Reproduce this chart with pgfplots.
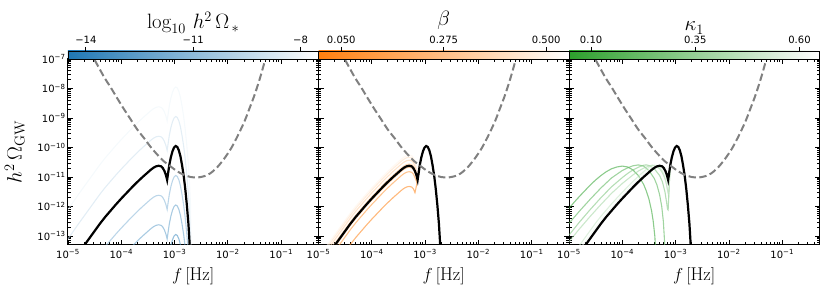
\documentclass[border=0pt]{standalone}
\usepackage{fontspec}
\usepackage{pgfplots}
\usepackage{pgfplotstable}
\pgfplotsset{compat=1.18}
\newfontfamily\dejavu{DejaVu Sans}
\definecolor{tabblue}{RGB}{31,119,180}
\definecolor{taborange}{RGB}{255,127,14}
\definecolor{tabgreen}{RGB}{44,160,44}
\definecolor{sgray}{RGB}{128,128,128}
\newcommand{\tl}[1]{10\textsuperscript{−#1}}

% log10 f , log10 h^2 Omega for the reference (black) curve and the h^2 Omega_* family
\pgfplotstableread{
x b8 b9 b10 b11 b12 b13 b14
-5.00 -12.10 -13.10 -14.10 -15.10 -16.10 -17.10 -18.10
-4.90 -11.84 -12.84 -13.84 -14.84 -15.84 -16.84 -17.84
-4.80 -11.58 -12.58 -13.58 -14.58 -15.58 -16.58 -17.58
-4.70 -11.33 -12.33 -13.33 -14.33 -15.33 -16.33 -17.33
-4.60 -11.08 -12.08 -13.08 -14.08 -15.08 -16.08 -17.08
-4.50 -10.83 -11.83 -12.83 -13.83 -14.83 -15.83 -16.83
-4.40 -10.58 -11.58 -12.58 -13.58 -14.58 -15.58 -16.58
-4.30 -10.35 -11.35 -12.35 -13.35 -14.35 -15.35 -16.35
-4.20 -10.14 -11.14 -12.14 -13.14 -14.14 -15.14 -16.14
-4.10 -9.93 -10.93 -11.93 -12.93 -13.93 -14.93 -15.93
-4.00 -9.73 -10.73 -11.73 -12.73 -13.73 -14.73 -15.73
-3.90 -9.54 -10.54 -11.54 -12.54 -13.54 -14.54 -15.54
-3.80 -9.35 -10.35 -11.35 -12.35 -13.35 -14.35 -15.35
-3.70 -9.17 -10.17 -11.17 -12.17 -13.17 -14.17 -15.17
-3.60 -9.00 -10.00 -11.00 -12.00 -13.00 -14.00 -15.00
-3.50 -8.84 -9.84 -10.84 -11.84 -12.84 -13.84 -14.84
-3.45 -8.76 -9.76 -10.76 -11.76 -12.76 -13.76 -14.76
-3.40 -8.69 -9.69 -10.69 -11.69 -12.69 -13.69 -14.69
-3.35 -8.64 -9.64 -10.64 -11.64 -12.64 -13.64 -14.64
-3.30 -8.62 -9.62 -10.62 -11.62 -12.62 -13.62 -14.62
-3.25 -8.64 -9.64 -10.64 -11.64 -12.64 -13.64 -14.64
-3.22 -8.70 -9.70 -10.70 -11.70 -12.70 -13.70 -14.70
-3.19 -8.80 -9.80 -10.80 -11.80 -12.80 -13.80 -14.80
-3.16 -8.95 -9.95 -10.95 -11.95 -12.95 -13.95 -14.95
-3.14 -9.10 -10.10 -11.10 -12.10 -13.10 -14.10 -15.10
-3.12 -8.85 -9.85 -10.85 -11.85 -12.85 -13.85 -14.85
-3.10 -8.60 -9.60 -10.60 -11.60 -12.60 -13.60 -14.60
-3.07 -8.33 -9.33 -10.33 -11.33 -12.33 -13.33 -14.33
-3.04 -8.13 -9.13 -10.13 -11.13 -12.13 -13.13 -14.13
-3.01 -8.00 -9.00 -10.00 -11.00 -12.00 -13.00 -14.00
-2.98 -7.95 -8.95 -9.95 -10.95 -11.95 -12.95 -13.95
-2.95 -7.98 -8.98 -9.98 -10.98 -11.98 -12.98 -13.98
-2.92 -8.10 -9.10 -10.10 -11.10 -12.10 -13.10 -14.10
-2.89 -8.30 -9.30 -10.30 -11.30 -12.30 -13.30 -14.30
-2.86 -8.60 -9.60 -10.60 -11.60 -12.60 -13.60 -14.60
-2.83 -8.95 -9.95 -10.95 -11.95 -12.95 -13.95 -14.95
-2.80 -9.40 -10.40 -11.40 -12.40 -13.40 -14.40 -15.40
-2.77 -9.95 -10.95 -11.95 -12.95 -13.95 -14.95 -15.95
-2.74 -10.60 -11.60 -12.60 -13.60 -14.60 -15.60 -16.60
-2.72 -11.20 -12.20 -13.20 -14.20 -15.20 -16.20 -17.20
-2.70 -12.00 -13.00 -14.00 -15.00 -16.00 -17.00 -18.00
-2.69 -14.00 -15.00 -16.00 -17.00 -18.00 -19.00 -20.00
}\tabOmega

% beta family (bump part, before joining the reference peak)
\pgfplotstableread{
x o05 o125 o20 o275 o35 o425 o50
-5.00 -14.80 -14.30 -14.15 -14.04 -13.91 -13.81 -13.74
-4.90 -14.54 -14.04 -13.89 -13.78 -13.65 -13.55 -13.48
-4.80 -14.28 -13.78 -13.63 -13.52 -13.39 -13.29 -13.22
-4.70 -14.03 -13.53 -13.38 -13.27 -13.14 -13.04 -12.97
-4.60 -13.78 -13.28 -13.13 -13.02 -12.89 -12.79 -12.72
-4.50 -13.53 -13.03 -12.88 -12.77 -12.64 -12.54 -12.47
-4.40 -13.28 -12.78 -12.63 -12.52 -12.39 -12.29 -12.22
-4.30 -13.05 -12.55 -12.40 -12.29 -12.16 -12.06 -11.99
-4.20 -12.84 -12.34 -12.19 -12.08 -11.95 -11.85 -11.78
-4.10 -12.63 -12.13 -11.98 -11.87 -11.74 -11.64 -11.57
-4.00 -12.43 -11.93 -11.78 -11.67 -11.54 -11.44 -11.37
-3.90 -12.24 -11.74 -11.59 -11.48 -11.35 -11.25 -11.18
-3.80 -12.05 -11.55 -11.40 -11.29 -11.16 -11.06 -10.99
-3.70 -11.87 -11.37 -11.22 -11.11 -10.98 -10.88 -10.81
-3.60 -11.70 -11.20 -11.05 -10.94 -10.81 -10.71 -10.64
-3.50 -11.54 -11.04 -10.89 -10.78 -10.65 -10.55 -10.48
-3.45 -11.46 -10.96 -10.81 -10.70 -10.57 -10.47 -10.40
-3.40 -11.39 -10.89 -10.74 -10.63 -10.50 -10.40 -10.33
-3.35 -11.34 -10.84 -10.69 -10.58 -10.45 -10.35 -10.28
-3.30 -11.32 -10.82 -10.67 -10.56 -10.43 -10.33 -10.26
-3.25 -11.34 -10.84 -10.69 -10.58 -10.45 -10.35 -10.28
-3.22 -11.40 -10.90 -10.75 -10.64 -10.51 -10.41 -10.34
-3.19 -11.53 -11.02 -10.85 -10.74 -10.65 -10.55 -10.48
-3.16 -11.28 -11.15 -11.00 -10.92 -10.82 -10.74 -10.68
-3.14 -11.05 -11.02 -11.12 -11.05 -10.98 -10.92 -10.88
-3.12 -10.85 -10.85 -10.85 -10.85 -10.85 -10.82 -10.80
-3.10 -10.60 -10.60 -10.60 -10.60 -10.60 -10.60 -10.58
}\tabBeta

% kappa_1 family
\pgfplotstableread{
x y
-5.00 -12.06
-4.90 -11.85
-4.80 -11.65
-4.70 -11.46
-4.60 -11.27
-4.50 -11.10
-4.40 -10.95
-4.30 -10.82
-4.20 -10.72
-4.10 -10.66
-4.00 -10.63
-3.90 -10.66
-3.80 -10.76
-3.70 -10.95
-3.60 -11.25
-3.55 -11.47
-3.50 -11.75
-3.45 -12.15
-3.42 -12.50
-3.39 -13.00
-3.37 -13.60
-3.36 -14.50
}\tabKa
\pgfplotstableread{
x y
-5.00 -12.57
-4.80 -12.15
-4.60 -11.75
-4.40 -11.37
-4.20 -11.03
-4.00 -10.78
-3.90 -10.69
-3.80 -10.62
-3.70 -10.59
-3.60 -10.63
-3.50 -10.78
-3.40 -11.05
-3.35 -11.27
-3.30 -11.60
-3.26 -12.00
-3.23 -12.50
-3.21 -13.10
-3.20 -13.60
-3.19 -14.50
}\tabKb
\pgfplotstableread{
x y
-5.00 -12.97
-4.80 -12.52
-4.60 -12.10
-4.40 -11.70
-4.20 -11.33
-4.00 -11.02
-3.90 -10.88
-3.80 -10.76
-3.70 -10.67
-3.60 -10.60
-3.55 -10.59
-3.50 -10.61
-3.40 -10.72
-3.30 -10.95
-3.25 -11.15
-3.20 -11.50
-3.17 -11.85
-3.15 -12.10
-3.14 -12.12
-3.12 -11.30
-3.10 -10.60
}\tabKc
\pgfplotstableread{
x y
-5.00 -13.19
-4.80 -12.75
-4.60 -12.33
-4.40 -11.93
-4.20 -11.55
-4.00 -11.22
-3.80 -10.93
-3.70 -10.80
-3.60 -10.70
-3.50 -10.63
-3.44 -10.60
-3.38 -10.62
-3.30 -10.72
-3.25 -10.85
-3.20 -11.05
-3.17 -11.25
-3.15 -11.45
-3.13 -11.60
-3.11 -10.85
-3.10 -10.60
}\tabKd
\pgfplotstableread{
x y
-5.00 -13.82
-4.90 -13.56
-4.80 -13.31
-4.70 -13.06
-4.60 -12.81
-4.50 -12.56
-4.40 -12.33
-4.30 -12.12
-4.20 -11.91
-4.10 -11.71
-4.00 -11.52
-3.90 -11.33
-3.80 -11.15
-3.70 -10.98
-3.60 -10.82
-3.50 -10.67
-3.45 -10.62
-3.40 -10.60
-3.35 -10.62
-3.30 -10.68
-3.25 -10.80
-3.22 -10.92
-3.19 -11.10
-3.16 -11.35
-3.14 -11.55
-3.12 -11.30
-3.10 -10.60
}\tabKe
\pgfplotstableread{
x y
-5.00 -13.96
-4.90 -13.70
-4.80 -13.45
-4.70 -13.20
-4.60 -12.95
-4.50 -12.70
-4.40 -12.46
-4.30 -12.24
-4.20 -12.03
-4.10 -11.82
-4.00 -11.63
-3.90 -11.44
-3.80 -11.25
-3.70 -11.08
-3.60 -10.91
-3.50 -10.75
-3.45 -10.68
-3.40 -10.63
-3.35 -10.61
-3.30 -10.63
-3.25 -10.70
-3.22 -10.78
-3.19 -10.92
-3.16 -11.15
-3.14 -11.35
-3.12 -11.10
-3.10 -10.60
}\tabKf

% sensitivity curve
\pgfplotstableread{
x y
-4.60 -6.72
-4.51 -7.00
-4.41 -7.33
-4.31 -7.65
-4.19 -7.99
-4.07 -8.35
-3.95 -8.70
-3.82 -9.06
-3.70 -9.39
-3.57 -9.69
-3.45 -9.98
-3.32 -10.25
-3.20 -10.47
-3.07 -10.65
-2.95 -10.81
-2.82 -10.93
-2.70 -11.00
-2.57 -11.02
-2.48 -10.99
-2.38 -10.93
-2.29 -10.82
-2.19 -10.65
-2.07 -10.38
-1.94 -10.03
-1.82 -9.62
-1.69 -9.12
-1.60 -8.70
-1.50 -8.22
-1.40 -7.66
-1.31 -7.09
-1.22 -6.50
}\tabSens

\pgfplotsset{
  panel/.style={
    scale only axis, width=250.5pt, height=186pt,
    anchor=south west,
    xmin=-5, xmax=-0.3, ymin=-13.305, ymax=-7,
    xtick={-5,-4,-3,-2,-1},
    xticklabels={\tl{5},\tl{4},\tl{3},\tl{2},\tl{1}},
    ytick={-13,-12,-11,-10,-9,-8,-7},
    minor xtick={-4.699,-4.523,-4.398,-4.301,-4.222,-4.155,-4.097,-4.046,
      -3.699,-3.523,-3.398,-3.301,-3.222,-3.155,-3.097,-3.046,
      -2.699,-2.523,-2.398,-2.301,-2.222,-2.155,-2.097,-2.046,
      -1.699,-1.523,-1.398,-1.301,-1.222,-1.155,-1.097,-1.046,
      -0.699,-0.523,-0.398},
    minor ytick={-13.222,-13.155,-13.097,-13.046,
      -12.699,-12.523,-12.398,-12.301,-12.222,-12.155,-12.097,-12.046,
      -11.699,-11.523,-11.398,-11.301,-11.222,-11.155,-11.097,-11.046,
      -10.699,-10.523,-10.398,-10.301,-10.222,-10.155,-10.097,-10.046,
      -9.699,-9.523,-9.398,-9.301,-9.222,-9.155,-9.097,-9.046,
      -8.699,-8.523,-8.398,-8.301,-8.222,-8.155,-8.097,-8.046,
      -7.699,-7.523,-7.398,-7.301,-7.222,-7.155,-7.097,-7.046},
    tick align=inside, xtick pos=both, ytick pos=both,
    major tick length=5pt, minor tick length=2.7pt,
    every tick/.append style={black, line width=0.8pt},
    axis line style={line width=1pt},
    xticklabel style={font=\dejavu\fontsize{10}{12}\selectfont, yshift=-1pt},
    yticklabel style={font=\dejavu\fontsize{10}{12}\selectfont, xshift=1pt},
    xlabel={$f\,[\mathrm{Hz}]$},
    xlabel style={font=\fontsize{18.5}{22}\selectfont, at={(axis description cs:0.5,-0.167)}, anchor=center},
    clip=true,
  },
  cbar/.style={
    scale only axis, width=250.5pt, height=8pt, anchor=south west,
    ymin=0, ymax=1, ytick=\empty,
    xtick pos=right, xticklabel pos=right, tick align=outside,
    major tick length=4pt,
    every tick/.append style={black, line width=0.8pt},
    xticklabel style={font=\dejavu\fontsize{10}{12}\selectfont},
    axis line style={line width=0.8pt},
    axis on top, clip=false,
  },
  fam/.style={line width=1.1pt, opacity=0.6},
  ref/.style={black, line width=2.2pt},
  sens/.style={sgray, line width=2pt, dash pattern=on 7.4pt off 3.4pt, smooth},
}

\begin{document}
\begin{tikzpicture}
\path[use as bounding box] (0,0) rectangle (830pt,296pt);

% ---------- panel 1 ----------
\begin{axis}[panel, at={(68pt,51pt)},
  yticklabels={\tl{13},\tl{12},\tl{11},\tl{10},\tl{9},\tl{8},\tl{7}},
  ylabel={$h^2\,\Omega_{\mathrm{GW}}$},
  ylabel style={font=\fontsize{20.74}{24}\selectfont, at={(axis description cs:-0.212,0.5)}, anchor=center}]
\addplot[fam, tabblue!93!white] table[x=x,y=b14] {\tabOmega};
\addplot[fam, tabblue!79!white] table[x=x,y=b13] {\tabOmega};
\addplot[fam, tabblue!64!white] table[x=x,y=b12] {\tabOmega};
\addplot[fam, tabblue!50!white] table[x=x,y=b11] {\tabOmega};
\addplot[fam, tabblue!36!white] table[x=x,y=b10] {\tabOmega};
\addplot[fam, tabblue!21!white] table[x=x,y=b9] {\tabOmega};
\addplot[fam, tabblue!7!white] table[x=x,y=b8] {\tabOmega};
\addplot[ref] table[x=x,y=b10] {\tabOmega};
\addplot[sens] table[x=x,y=y] {\tabSens};
\end{axis}
\begin{axis}[cbar, at={(68pt,237pt)}, xmin=-14.5, xmax=-7.5,
  xtick={-14,-11,-8}, xticklabels={−14,−11,−8}]
\fill[left color=tabblue, right color=white] (axis cs:-14.5,0) rectangle (axis cs:-7.5,1);
\node[anchor=base, inner sep=0pt, font=\fontsize{20.74}{24}\selectfont] at (rel axis cs:0.5,1) [yshift=22pt] {$\log_{10}\, h^2\,\Omega_{\,*}$};
\end{axis}

% ---------- panel 2 ----------
\begin{axis}[panel, at={(318.5pt,51pt)}, yticklabels={}]
\addplot[fam, taborange!91!white] table[x=x,y=o05] {\tabBeta};
\addplot[fam, taborange!77!white] table[x=x,y=o125] {\tabBeta};
\addplot[fam, taborange!64!white] table[x=x,y=o20] {\tabBeta};
\addplot[fam, taborange!50!white] table[x=x,y=o275] {\tabBeta};
\addplot[fam, taborange!36!white] table[x=x,y=o35] {\tabBeta};
\addplot[fam, taborange!23!white] table[x=x,y=o425] {\tabBeta};
\addplot[fam, taborange!9!white] table[x=x,y=o50] {\tabBeta};
\addplot[ref] table[x=x,y=b10] {\tabOmega};
\addplot[sens] table[x=x,y=y] {\tabSens};
\end{axis}
\begin{axis}[cbar, at={(318.5pt,237pt)}, xmin=0, xmax=0.55,
  xtick={0.05,0.275,0.5}, xticklabels={0.050,0.275,0.500}]
\fill[left color=taborange, right color=white] (axis cs:0,0) rectangle (axis cs:0.55,1);
\node[anchor=base, inner sep=0pt, font=\fontsize{20.74}{24}\selectfont] at (rel axis cs:0.5,1) [yshift=25pt] {$\beta$};
\end{axis}

% ---------- panel 3 ----------
\begin{axis}[panel, at={(569pt,51pt)}, yticklabels={}]
\addplot[fam, tabgreen!91!white] table[x=x,y=y] {\tabKa};
\addplot[fam, tabgreen!75!white] table[x=x,y=y] {\tabKb};
\addplot[fam, tabgreen!58!white] table[x=x,y=y] {\tabKc};
\addplot[fam, tabgreen!41!white] table[x=x,y=y] {\tabKd};
\addplot[fam, tabgreen!25!white] table[x=x,y=y] {\tabKe};
\addplot[fam, tabgreen!8!white] table[x=x,y=y] {\tabKf};
\addplot[ref] table[x=x,y=b10] {\tabOmega};
\addplot[sens] table[x=x,y=y] {\tabSens};
\end{axis}
\begin{axis}[cbar, at={(569pt,237pt)}, xmin=0.047, xmax=0.648,
  xtick={0.1,0.35,0.6}, xticklabels={0.10,0.35,0.60}]
\fill[left color=tabgreen, right color=white] (axis cs:0.047,0) rectangle (axis cs:0.648,1);
\node[anchor=base, inner sep=0pt, font=\fontsize{20.74}{24}\selectfont] at (rel axis cs:0.5,1) [yshift=20pt] {$\kappa_1$};
\end{axis}
\end{tikzpicture}
\end{document}
